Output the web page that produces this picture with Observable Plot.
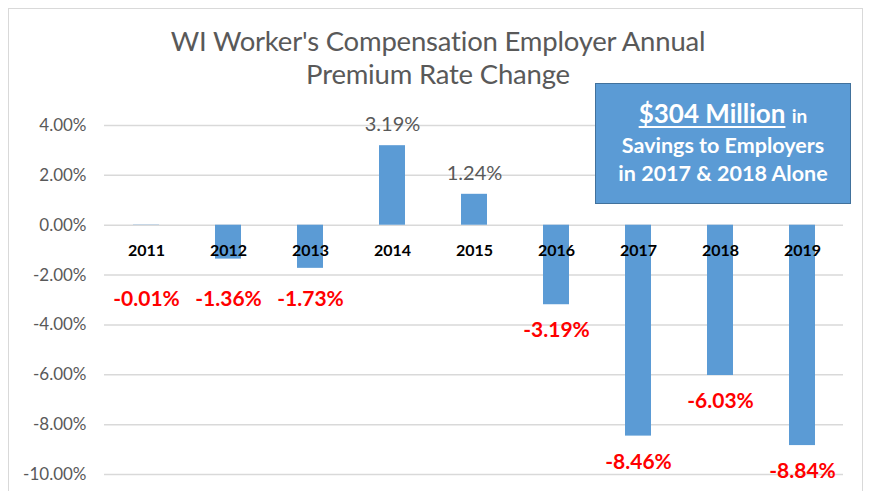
<!DOCTYPE html>
<html><head><meta charset="utf-8">
<script src="https://cdn.jsdelivr.net/npm/d3@7"></script>
<script src="https://cdn.jsdelivr.net/npm/@observablehq/plot@0.6"></script>
<style>
body{margin:0;background:#fff;overflow:hidden;}
#wrap{position:relative;width:869px;height:491px;overflow:hidden;font-family:Lato,sans-serif;background:#fff;}
#frame{position:absolute;left:8px;top:8px;width:855px;height:530px;border:1.5px solid #d9d9d9;box-sizing:border-box;}
#title{position:absolute;left:9px;width:858px;top:24px;text-align:center;font-size:27.5px;line-height:33px;color:#595959;font-weight:400;letter-spacing:-0.2px;}
#chart{position:absolute;left:0;top:0;}
#box{position:absolute;left:595px;top:83px;width:256px;height:121px;box-sizing:border-box;background:#5B9BD5;border:1.5px solid #41719C;color:#fff;font-weight:bold;text-align:center;}
#box .l1{position:absolute;left:0;right:0;top:13px;line-height:32px;font-size:26px;}
#box .l1 u{text-decoration-thickness:1.5px;text-underline-offset:3px;}
#box .l1 small{font-size:19px;}
#box .l2{position:absolute;left:0;right:0;top:47px;line-height:28px;font-size:21.5px;}
</style>
</head><body>
<div id="wrap">
  <div id="frame"></div>
  <div id="chart"></div>
  <div id="title">WI Worker's Compensation Employer Annual<br>Premium Rate Change</div>
  <div id="box"><div class="l1"><u>$304 Million</u> <small>in</small></div><div class="l2">Savings to Employers<br>in 2017 &amp; 2018 Alone</div></div>
</div>
<script>
const years = ["2011","2012","2013","2014","2015","2016","2017","2018","2019"];
const rates = [-0.01,-1.36,-1.73,3.19,1.24,-3.19,-8.46,-6.03,-8.84];
const yTicks = [-10,-8,-6,-4,-2,0,2,4];

const data = years.map((year, i) => ({year, rate: rates[i]}));
const pct = v => v.toFixed(2) + "%";

const chart = Plot.plot({
  width: 869, height: 491,
  marginLeft: 104, marginRight: 26, marginTop: 125, marginBottom: 17,
  x: {type: "band", domain: years, paddingInner: 0.683, paddingOuter: 0.3415, axis: null},
  y: {domain: [-10, 4], axis: null},
  style: {fontFamily: "Lato, sans-serif", background: "transparent", overflow: "visible"},
  marks: [
    Plot.ruleY(yTicks, {stroke: "#d9d9d9", strokeWidth: 1.5}),
    Plot.axisY({ticks: yTicks, tickFormat: pct, tickSize: 0, tickPadding: 18, fontSize: 17, color: "#595959", label: null}),
    Plot.barY(data, {x: "year", y: "rate", fill: "#5B9BD5"}),
    Plot.text(data, {x: "year", y: () => 0, dy: 26, text: "year", fontWeight: "bold", fontSize: 16, fill: "#000"}),
    Plot.text(data.filter(d => d.rate < 0), {x: "year", y: d => Math.min(d.rate, -1.92), dy: 26, text: d => pct(d.rate), fill: "#FF0000", fontWeight: "bold", fontSize: 21}),
    Plot.text(data.filter(d => d.rate > 0), {x: "year", y: "rate", dy: -21, text: d => pct(d.rate), fill: "#595959", fontSize: 20})
  ]
});
document.getElementById("chart").appendChild(chart);
</script>
</body></html>
